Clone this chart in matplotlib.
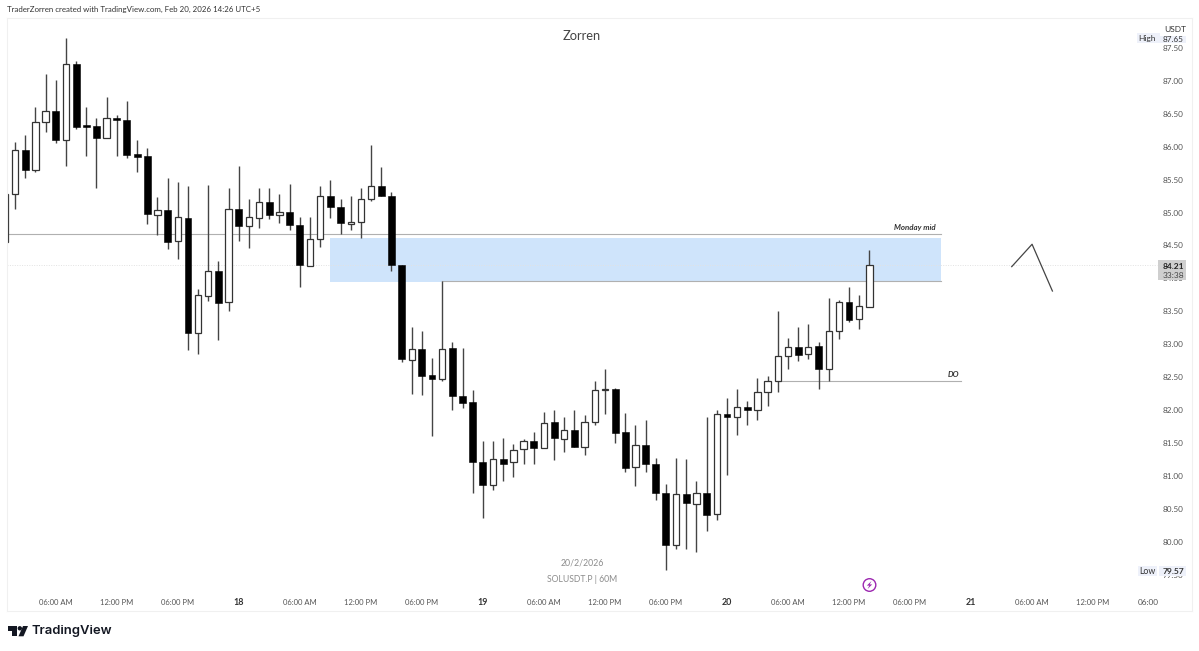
import matplotlib
matplotlib.use("Agg")
import matplotlib.pyplot as plt
from matplotlib.patches import Rectangle, Polygon, Circle
import numpy as np

# ---------- data (SOLUSDT.P, 60m) ----------
opens = [84.56,85.29,85.95,85.64,86.38,86.55,86.11,87.25,86.31,86.31,86.14,86.43,86.41,85.89,85.86,84.97,85.04,84.57,84.92,83.18,
         83.74,84.12,83.64,85.06,84.79,84.92,85.16,84.97,85.01,84.81,84.19,84.60,85.26,85.09,84.82,84.86,85.21,85.41,85.26,84.20,
         82.77,82.93,82.53,82.48,82.95,82.22,82.13,81.21,80.86,81.26,81.21,81.41,81.53,81.43,81.82,81.57,81.70,81.44,81.82,82.30,
         82.33,81.67,81.14,81.48,81.19,80.75,79.96,80.73,80.57,80.75,80.43,81.94,81.89,82.05,82.01,82.28,82.45,82.83,82.96,82.85,
         82.97,82.62,83.20,83.65,83.38,83.57]
highs = [84.56,86.07,86.18,86.60,87.10,87.01,87.65,87.30,86.60,86.43,86.75,86.48,86.70,86.11,85.98,85.24,85.52,85.46,85.41,83.84,
         85.42,84.26,85.38,85.71,85.21,85.38,85.38,85.28,85.43,84.93,84.94,85.40,85.49,85.20,85.25,85.37,86.03,85.69,85.32,84.20,
         83.27,83.20,82.80,83.96,83.03,82.94,82.30,81.54,81.54,81.58,81.49,81.57,81.67,81.98,82.01,81.89,82.00,81.93,82.44,82.62,
         82.34,81.96,81.78,81.85,81.27,80.88,81.28,81.26,80.92,81.90,82.01,82.19,82.33,82.14,82.49,82.52,83.50,83.09,83.26,83.31,
         83.03,83.70,83.68,83.87,83.75,84.43]
lows = [84.56,85.06,85.52,85.61,86.22,86.06,85.71,86.27,85.86,85.37,86.14,85.86,85.83,85.61,84.82,84.66,84.45,84.30,82.92,82.85,
        83.66,83.07,83.50,84.57,84.46,84.77,84.91,84.84,84.74,83.87,84.19,84.48,84.92,84.68,84.74,84.62,85.17,85.25,84.11,82.74,
        82.24,82.23,81.61,82.45,82.00,82.03,80.74,80.36,80.79,80.92,80.99,81.18,81.18,81.43,81.25,81.37,81.44,81.32,81.77,81.95,
        81.51,81.06,80.85,81.06,80.63,79.57,79.90,79.90,79.85,80.17,80.33,81.02,81.62,81.77,81.85,82.07,82.27,82.63,82.75,82.78,
        82.32,82.45,83.08,83.34,83.23,83.57]
closes = [85.29,85.95,85.65,86.38,86.55,86.10,87.25,86.30,86.30,86.14,86.43,86.41,85.87,85.85,84.98,85.04,84.56,84.93,83.18,83.75,
          84.12,83.63,85.06,84.79,84.93,85.16,84.97,85.01,84.81,84.20,84.60,85.26,85.09,84.84,84.86,85.21,85.41,85.25,84.20,82.78,
          82.93,82.52,82.47,82.93,82.22,82.11,81.21,80.86,81.26,81.19,81.40,81.54,81.43,81.80,81.58,81.70,81.44,81.82,82.31,82.33,
          81.65,81.13,81.47,81.19,80.75,79.95,80.73,80.59,80.75,80.41,81.94,81.90,82.05,82.01,82.28,82.45,82.83,82.96,82.84,82.96,
          82.62,83.21,83.65,83.37,83.58,84.20]

price_ticks = [87.5,87.0,86.5,86.0,85.5,85.0,84.5,84.0,83.5,83.0,82.5,82.0,81.5,81.0,80.5,80.0,79.5]
time_tick_pos = [5,11,17,23,29,35,41,47,53,59,65,71,77,83,89,95,101,107]
time_tick_labels = ["06:00 AM","12:00 PM","06:00 PM","18","06:00 AM","12:00 PM","06:00 PM","19","06:00 AM","12:00 PM",
                    "06:00 PM","20","06:00 AM","12:00 PM","06:00 PM","21","06:00 AM","12:00 PM"]
day_labels = {"18","19","20","21"}
last_price = 84.21
high_price = 87.65
low_price = 79.57
zone_top, zone_bottom = 84.62, 83.95
zone_start, zone_end = 32, 92
monday_mid = 84.68
daily_open = 82.45
daily_open_start, daily_open_end = 76, 94
sweep_level = 83.96
sweep_start = 43
path_x = [99, 101, 103]
path_y = [84.18, 84.52, 83.81]

# ---------- figure ----------
W, H = 1199, 651
FONT = "Lato"
plt.rcParams["font.family"] = [FONT, "DejaVu Sans"]
fig = plt.figure(figsize=(W/100, H/100), dpi=100, facecolor="white")
L, R, T, B = 7, 1192, 18, 611
ax = fig.add_axes([L/W, 1-B/H, (R-L)/W, (B-T)/H])
ax.set_xlim((L-4.9)/10.17, (R-4.9)/10.17)
ax.set_ylim(88.228-0.015181*B, 88.228-0.015181*T)
ax.set_xticks([]); ax.set_yticks([])
for s in ax.spines.values():
    s.set_color("#f0f0f0"); s.set_linewidth(0.8)

def fx(x): return x/W
def fy(y): return 1-y/H
def ftext(x, y, s, **kw):
    kw.setdefault("ha", "center"); kw.setdefault("va", "center")
    return fig.text(fx(x), fy(y), s, **kw)

# annotations under candles
ax.add_patch(Rectangle((zone_start, zone_bottom), zone_end-zone_start, zone_top-zone_bottom,
                       facecolor="#cfe4fb", edgecolor="none", zorder=1))
ax.plot([ax.get_xlim()[0], zone_end], [monday_mid]*2, color="#b0b0b0", lw=0.8, zorder=1.5)
ax.plot([sweep_start, zone_end], [sweep_level]*2, color="#b0b0b0", lw=0.8, zorder=1.5)
ax.plot([daily_open_start, daily_open_end], [daily_open]*2, color="#b0b0b0", lw=0.8, zorder=1.5)
ax.plot([ax.get_xlim()[0], 113.3], [last_price]*2, color="#e2e2e2", lw=0.7, ls=(0, (1, 1.5)), zorder=1.2)
ax.plot(path_x, path_y, color="#444444", lw=0.9, zorder=3)

# candles
o, h, l, c = map(np.array, (opens, highs, lows, closes))
idx = np.arange(len(o))
up = c >= o
ax.vlines(idx, l, h, color="#444444", lw=1.0, zorder=2)
ax.bar(idx[up], np.abs(c-o)[up], bottom=np.minimum(o, c)[up], width=0.62,
       facecolor="white", edgecolor="#333333", linewidth=0.9, zorder=2.5)
ax.bar(idx[~up], np.maximum(np.abs(c-o)[~up], 0.03), bottom=np.minimum(o, c)[~up], width=0.68,
       facecolor="#000000", edgecolor="#000000", linewidth=0.4, zorder=2.5)

# texts on the chart
ax.text(92-0.45, monday_mid+0.04, "Monday mid", ha="right", va="bottom", fontsize=5.7,
        fontstyle="italic", fontweight="bold", color="#333333", zorder=4)
ax.text(93.8, daily_open+0.04, "DO", ha="right", va="bottom", fontsize=5.7,
        fontstyle="italic", fontweight="bold", color="#333333", zorder=4)

# axis labels
TICK = "#555555"
for p in price_ticks:
    y = (88.228-p)/0.015181
    ftext(1173, y+0.4, f"{p:.2f}", fontsize=5.9, color=TICK, zorder=2)
for pos, lab in zip(time_tick_pos, time_tick_labels):
    x = 4.9+10.17*pos
    ftext(x, 602.3, lab, fontsize=5.5 if lab not in day_labels else 6.4,
          color="#333333" if lab in day_labels else TICK, zorder=2,
          fontweight="bold" if lab in day_labels else "normal")
ftext(1148, 602.3, "06:00", fontsize=5.9, color=TICK)

def box(x0, y0, x1, y1, color, z):
    fig.add_artist(Rectangle((fx(x0), fy(y1)), (x1-x0)/W, (y1-y0)/H, transform=fig.transFigure,
                             facecolor=color, edgecolor="none", zorder=z))

# High / Low / last price flags
box(1137, 33, 1186, 43, "#eef1fa", 3)
ftext(1147, 38.5, "High", fontsize=6.0, color="#333333", zorder=4)
ftext(1173, 40, f"{high_price:.2f}", fontsize=5.9, color="#333333", zorder=4)
box(1160, 24, 1186, 36, "white", 5)
ftext(1175, 29, "USDT", fontsize=6.0, color="#333333", zorder=6)
box(1138, 566, 1157, 576, "#eef1fa", 3)
box(1159, 566, 1186, 576, "#eef1fa", 3)
ftext(1147, 571, "Low", fontsize=6.3, color="#333333", zorder=4)
ftext(1173, 571, f"{low_price:.2f}", fontsize=6.1, color="#333333", fontweight="bold", zorder=4)
box(1158, 260, 1186, 280, "#cfcfcf", 3)
ftext(1173, 266, f"{last_price:.2f}", fontsize=6.0, color="#222222", fontweight="bold", zorder=4)
ftext(1173, 275, "33:38", fontsize=6.0, color="#444444", zorder=4)

# headings
ftext(7, 9, "TraderZorren created with TradingView.com, Feb 20, 2026 14:26 UTC+5", ha="left",
      fontsize=5.7, color="#333333")
ftext(582, 35.5, "Zorren", fontsize=9.3, color="#444444")
ftext(582, 563, "20/2/2026", fontsize=6.3, color="#8c8c8c")
ftext(582, 579, "SOLUSDT.P | 60M", fontsize=6.2, color="#8c8c8c")

# lightning marker
fig.add_artist(Circle((869.5, H-585), 6.3, transform=None, facecolor="white", edgecolor="#9c27b0", linewidth=1.0, zorder=4))
fig.add_artist(Polygon(np.array([[871.5,581],[866.8,585.6],[869.3,585.6],[867.6,589],[872.2,584.4],[869.7,584.4]])*[1,-1]+[0,H],
                       closed=True, transform=None, facecolor="#9c27b0", edgecolor="none", zorder=5))

# TradingView logo
pts = lambda a: np.column_stack([np.array(a)[:,0], H-np.array(a)[:,1]])
fig.add_artist(Polygon(pts([[8,626],[17,626],[17,636.3],[12,636.3],[12,630.5],[8,630.5]]), closed=True,
                       transform=None, facecolor="#131722", edgecolor="none"))
fig.add_artist(Circle((19.8, H-628.3), 2.2, transform=None, facecolor="#131722", edgecolor="none"))
fig.add_artist(Polygon(pts([[23,626],[28,626],[23.5,636.3],[18.5,636.3]]), closed=True,
                       transform=None, facecolor="#131722", edgecolor="none"))
ftext(32, 631, "TradingView", ha="left", fontsize=9.4, fontfamily="Inter", fontweight="semibold", color="#131722")

fig.savefig("out.png", dpi=100)
